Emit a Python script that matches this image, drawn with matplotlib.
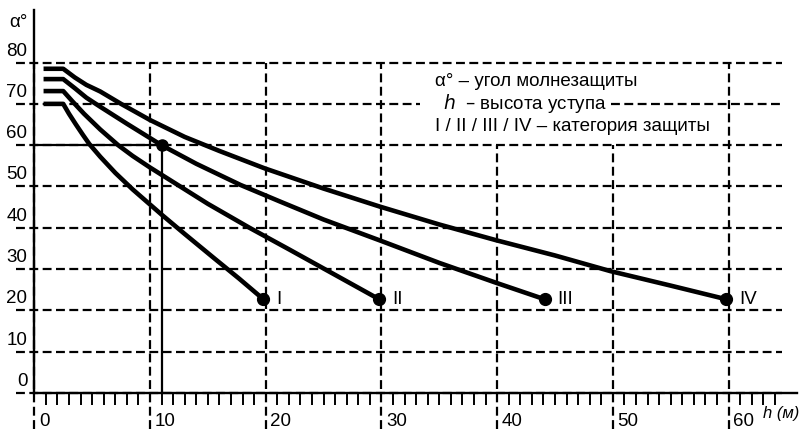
import matplotlib
matplotlib.use('Agg')
import matplotlib.pyplot as plt

plt.rcParams['font.family'] = ['Liberation Sans', 'DejaVu Sans']

# curves: h (m) -> alpha (deg)
h_I = [0.8, 2.5, 3.0, 3.6, 4.2, 4.75, 5.7, 7.0, 8.5, 11.0, 13.0, 15.6, 17.7, 19.8]
a_I = [70.0, 70.0, 67.6, 65.0, 62.5, 60.3, 57.2, 53.3, 49.3, 43.2, 38.5, 32.5, 27.7, 22.7]

h_II = [0.8, 2.5, 3.3, 4.3, 5.7, 7.25, 8.5, 10.0, 12.5, 15.0, 18.6, 22.0, 26.0, 29.8]
a_II = [73.1, 73.1, 70.6, 67.6, 63.8, 60.0, 57.4, 54.6, 50.2, 45.8, 40.0, 34.8, 28.6, 22.7]

h_III = [0.8, 2.5, 3.5, 4.5, 5.7, 8.0, 11.0, 14.0, 17.8, 21.2, 25.0, 30.0, 35.0, 40.0, 44.1]
a_III = [76.0, 76.0, 73.8, 71.5, 69.3, 65.2, 60.0, 55.5, 50.4, 46.4, 42.0, 36.8, 31.5, 26.6, 22.7]

h_IV = [0.8, 2.5, 3.5, 4.5, 5.7, 7.5, 10.0, 13.0, 16.0, 19.9, 25.0, 29.9, 35.0, 39.9, 45.0, 49.8, 55.0, 59.8]
a_IV = [78.5, 78.5, 76.4, 74.6, 73.0, 70.0, 66.1, 62.0, 58.6, 54.4, 49.5, 45.1, 40.8, 37.0, 33.3, 29.5, 26.0, 22.7]

curves = [(h_I, a_I, 'I'), (h_II, a_II, 'II'), (h_III, a_III, 'III'), (h_IV, a_IV, 'IV')]

# example point
ex_h = 11.0
ex_a = 60.0

x_grid = [0, 10, 20, 30, 40, 50, 60]
x_grid_top = [80, 80, 80, 80, 60, 60, 80]   # 40 and 50 stop under the legend
y_grid = [0, 10, 20, 30, 40, 50, 60, 70, 80]
x_labels = ['0', '10', '20', '30', '40', '50', '60']
y_labels = ['0', '10', '20', '30', '40', '50', '60', '70', '80']

legend_lines = ['α° – угол молнезащиты', 'высота уступа', 'I / II / III / IV – категория защиты']

fs = 13.5

fig = plt.figure(figsize=(8.08, 4.29), dpi=100)
ax = fig.add_axes([0.04245, 0.0839, 0.9437, 0.8925])
ax.set_xlim(0, 65.9)
ax.set_ylim(0, 92.7)

dash = (0, (4, 2))
for xv, top in zip(x_grid, x_grid_top):
    ax.plot([xv, xv], [-8.8, top], color='black', lw=1.6, ls=dash, clip_on=False, zorder=1)
for yv in y_grid:
    if yv == 70:
        # gap behind the legend text
        ax.plot([-1.6, 33.3], [yv, yv], color='black', lw=1.6, ls=dash, clip_on=False, zorder=1)
        ax.plot([49.8, 64.6], [yv, yv], color='black', lw=1.6, ls=dash, clip_on=False, zorder=1)
    else:
        ax.plot([-1.6, 64.6], [yv, yv], color='black', lw=1.6, ls=dash, clip_on=False, zorder=1)

for spine in ['top', 'right']:
    ax.spines[spine].set_visible(False)
for spine in ['left', 'bottom']:
    ax.spines[spine].set_linewidth(1.7)
    ax.spines[spine].set_zorder(3)

ticks = [t for t in range(1, 65) if t % 10 != 0]
ax.set_xticks(ticks)
ax.set_xticklabels([])
ax.set_yticks([])
ax.tick_params(axis='x', direction='out', length=8.6, width=1.4, color='black')

# reference lines through the example point
ax.plot([0, ex_h], [ex_a, ex_a], color='black', lw=1.6, zorder=2)
ax.plot([ex_h, ex_h], [0, ex_a], color='black', lw=1.6, zorder=2)
ax.plot([ex_h], [ex_a], 'o', color='black', ms=8, zorder=4)

for h, a, name in curves:
    ax.plot(h, a, color='black', lw=3.3, solid_capstyle='butt', solid_joinstyle='round', zorder=4)
    ax.plot([h[-1]], [a[-1]], 'o', color='black', ms=8.5, zorder=5)
    ax.text(h[-1] + 1.1, a[-1], name, ha='left', va='center', fontsize=fs, zorder=5)

for xv, lab in zip(x_grid, x_labels):
    ax.text(xv + 0.4, -8.0, lab, ha='left', va='baseline', fontsize=fs, clip_on=False)
for yv, lab in zip(y_grid, y_labels):
    ax.text(-0.6, yv + 2.8, lab, ha='right', va='center', fontsize=fs, clip_on=False)

ax.text(-0.6, 89.6, 'α°', ha='right', va='center', fontsize=fs, clip_on=False)
ax.text(63.0, -4.9, 'h (м)', ha='left', va='center', fontsize=12, style='italic', clip_on=False)

ax.text(34.6, 75.4, legend_lines[0], ha='left', va='center', fontsize=fs, zorder=4)
ax.text(35.3, 70.1, '$\\mathit{h}$  – ' + legend_lines[1], ha='left', va='center', fontsize=fs, zorder=4)
ax.text(34.6, 64.6, legend_lines[2], ha='left', va='center', fontsize=fs, zorder=4)

fig.savefig('out.png', dpi=100)
